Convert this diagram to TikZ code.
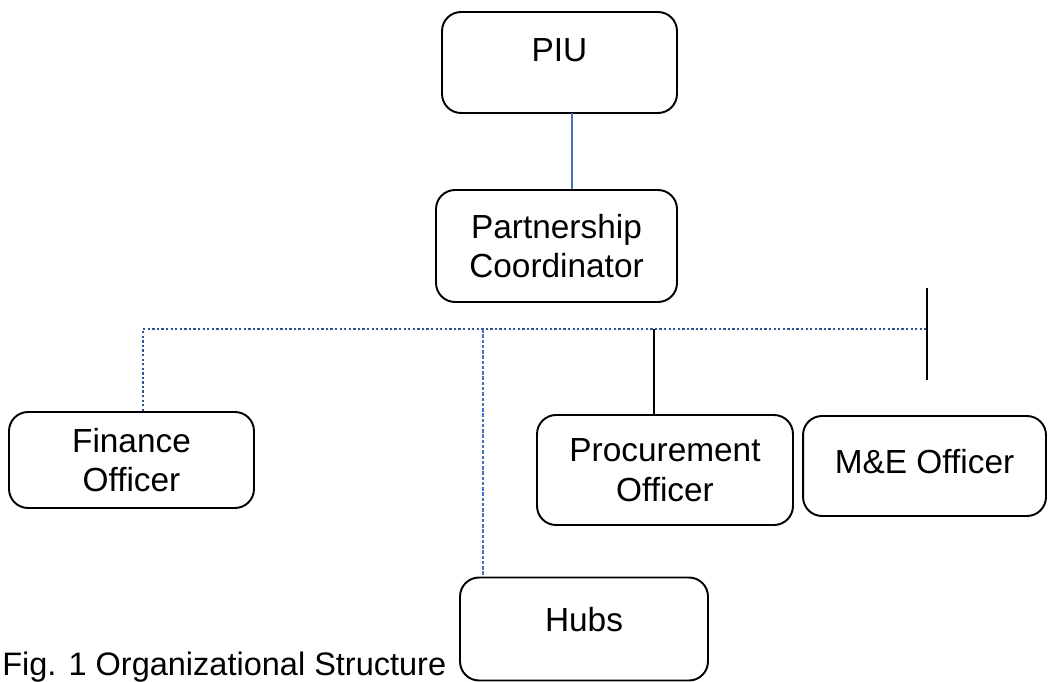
\documentclass[tikz,border=0pt]{standalone}
\usepackage{fontspec}
\setmainfont{Liberation Sans}
\definecolor{linkblue}{HTML}{4472C4}
\definecolor{dotblue}{HTML}{2F5597}
\begin{document}
\begin{tikzpicture}[x=0.02cm, y=-0.02cm,
    box/.style={draw, line width=1.1pt, rounded corners=0.38cm, align=center,
        font=\fontsize{19}{22.5}\selectfont, inner sep=0pt},
    dotline/.style={dotblue, line width=1.5pt, dash pattern=on 1.3pt off 1.3pt},
    thinblue/.style={linkblue, line width=0.6pt},
    thinline/.style={black, line width=0.6pt}]
\useasboundingbox (0,0) rectangle (1048,682);
% Boxes
\node[box, minimum width=4.7cm, minimum height=2.02cm, text depth=0.48cm] (piu) at (559.5,62.5) {PIU};
\node[box, minimum width=4.82cm, minimum height=2.24cm] (coord) at (556.5,246) {Partnership\\Coordinator};
\node[box, minimum width=4.9cm, minimum height=1.92cm] (fin) at (131.5,460) {Finance\\Officer};
\node[box, minimum width=5.12cm, minimum height=2.2cm] (proc) at (665,470) {Procurement\\Officer};
\node[box, minimum width=4.86cm, minimum height=2.0cm, text depth=0.2cm] (me) at (924.5,466) {M\&E Officer};
\node[box, minimum width=4.96cm, minimum height=2.06cm, text depth=0.4cm] (hubs) at (584,629) {Hubs};
\node[font=\fontsize{18.5}{21}\selectfont, inner sep=0pt, anchor=base west] (fig) at (2,675) {Fig. 1 Organizational Structure};
% Lines
\coordinate (piu-c) at (572,113);
\coordinate (bar-l) at (143,329);
\coordinate (bar-r) at (927,329);
\coordinate (bar-h) at (483,329);
\coordinate (bar-p) at (654,329);
\coordinate (tick-t) at (927,288);
\coordinate (tick-b) at (927,380);
\coordinate (hubs-t) at (483,575);
\draw[thinblue] (piu-c) -- (piu-c |- coord.north);
\draw[dotline] (fin.north -| bar-l) -- (bar-l) -- (bar-r);
\draw[thinblue, dash pattern=on 2pt off 1pt] (bar-h) -- (hubs-t);
\draw[thinline] (bar-p) -- (bar-p |- proc.north);
\draw[thinline] (tick-t) -- (tick-b);
\end{tikzpicture}
\end{document}
